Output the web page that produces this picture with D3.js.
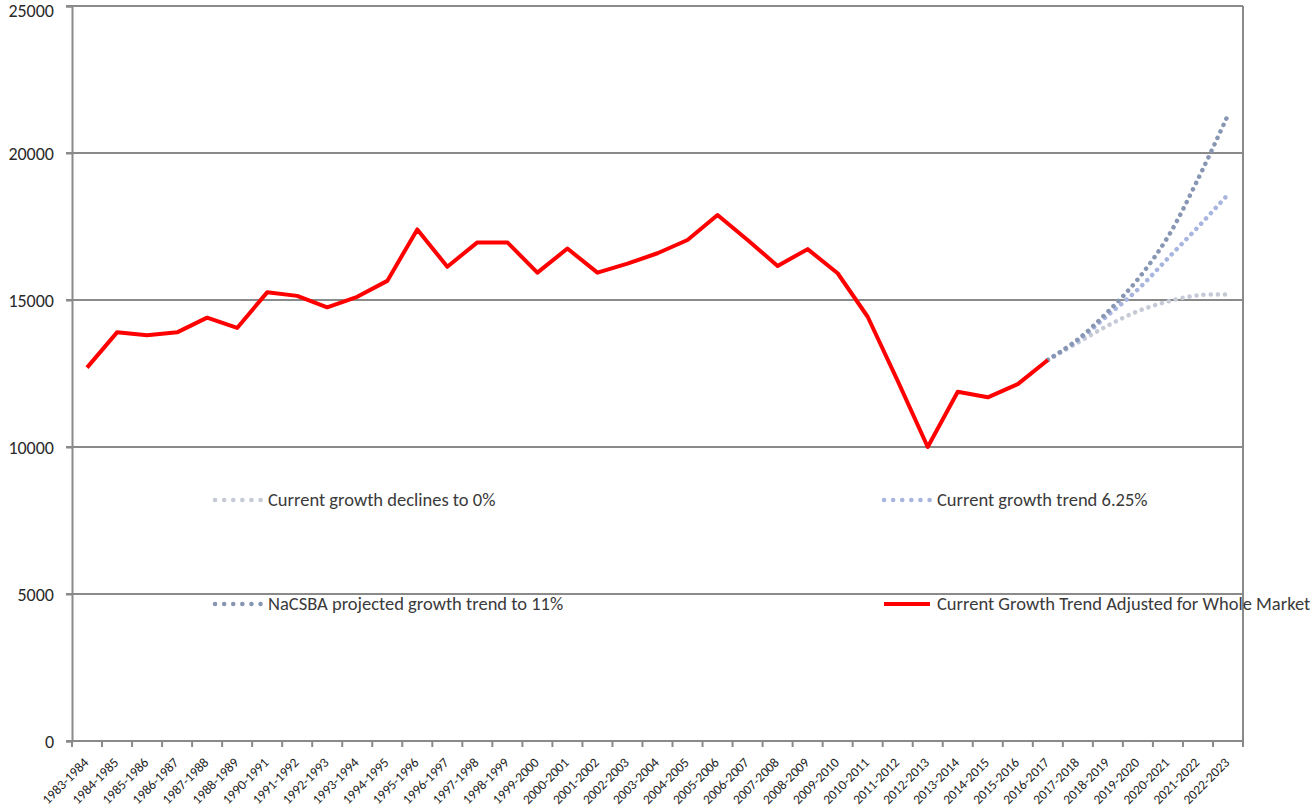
<!DOCTYPE html>
<html>
<head>
<meta charset="utf-8">
<script src="https://cdn.jsdelivr.net/npm/d3@7"></script>
<style>
  body { margin: 0; background: #fff; }
  text { font-family: Carlito, Lato, "Liberation Sans", sans-serif; }
</style>
</head>
<body>
<div id="chart"></div>
<script>
// Categories (note: 1989-1990 is not in the source axis)
const years = [
  "1983-1984","1984-1985","1985-1986","1986-1987","1987-1988","1988-1989",
  "1990-1991","1991-1992","1992-1993","1993-1994","1994-1995","1995-1996",
  "1996-1997","1997-1998","1998-1999","1999-2000","2000-2001","2001-2002",
  "2002-2003","2003-2004","2004-2005","2005-2006","2006-2007","2007-2008",
  "2008-2009","2009-2010","2010-2011","2011-2012","2012-2013","2013-2014",
  "2014-2015","2015-2016","2016-2017","2017-2018","2018-2019","2019-2020",
  "2020-2021","2021-2022","2022-2023"
];

// Current growth trend adjusted for whole market (1983-1984 .. 2016-2017)
const actual = [
  12700, 13900, 13800, 13900, 14400, 14050, 15260, 15140, 14750, 15110,
  15650, 17400, 16130, 16960, 16960, 15930, 16750, 15930, 16240, 16590,
  17040, 17890, 17040, 16160, 16730, 15910, 14430, 12250, 10000, 11880,
  11690, 12140, 12960
];

// Projections (2016-2017 .. 2022-2023)
const projYears = years.slice(32);
const declineTo0 = [12960, 13550, 14130, 14620, 14950, 15160, 15190];
const trend625   = [12960, 13620, 14480, 15360, 16420, 17480, 18590];
const nacsba11   = [12960, 13660, 14600, 15710, 17150, 19110, 21290];

const yTicks = [0, 5000, 10000, 15000, 20000, 25000];

const W = 1312, H = 810;
const m = { left: 72, right: 1243, top: 6, bottom: 741 };

const svg = d3.select("#chart").append("svg")
    .attr("width", W).attr("height", H);

const x = d3.scaleBand().domain(years).range([m.left, m.right]).padding(0);
const cx = d => x(d) + x.bandwidth() / 2;
const y = d3.scaleLinear().domain([0, 25000]).range([m.bottom, m.top]);

const gridCol = "#8a8a8a";

// gridlines
svg.append("g")
    .selectAll("line")
    .data(yTicks.filter(t => t > 0))
    .enter().append("line")
    .attr("x1", m.left - 6).attr("x2", m.right)
    .attr("y1", d => y(d)).attr("y2", d => y(d))
    .attr("stroke", gridCol).attr("stroke-width", 2);

// y axis
const yAxis = svg.append("g")
    .attr("transform", `translate(${m.left},0)`)
    .call(d3.axisLeft(y).tickValues(yTicks).tickSize(6).tickPadding(12).tickFormat(d3.format("d")));
yAxis.select(".domain").attr("stroke", gridCol).attr("stroke-width", 2);
yAxis.selectAll(".tick line").attr("stroke", gridCol).attr("stroke-width", 2);
yAxis.selectAll(".tick text")
    .attr("fill", "#2a2a2a").style("font-size", "18px")
    .style("font-family", "Carlito, Lato, sans-serif")
    .attr("dy", d => d === 25000 ? "0.6em" : "0.34em");

// right border
svg.append("line")
    .attr("x1", m.right).attr("x2", m.right).attr("y1", m.top).attr("y2", m.bottom)
    .attr("stroke", gridCol).attr("stroke-width", 2);

// x axis line + boundary ticks
svg.append("line")
    .attr("x1", m.left - 6).attr("x2", m.right).attr("y1", m.bottom).attr("y2", m.bottom)
    .attr("stroke", gridCol).attr("stroke-width", 2);
const bounds = years.map(d => x(d)).concat([m.right]);
svg.append("g").selectAll("line")
    .data(bounds).enter().append("line")
    .attr("x1", d => d).attr("x2", d => d)
    .attr("y1", m.bottom).attr("y2", m.bottom + 6)
    .attr("stroke", gridCol).attr("stroke-width", 2);

// x labels
svg.append("g").selectAll("text")
    .data(years).enter().append("text")
    .attr("transform", d => `translate(${cx(d) - 1},${m.bottom + 19}) rotate(-45)`)
    .attr("text-anchor", "end")
    .attr("dy", "0.35em")
    .attr("fill", "#1e1e1e")
    .style("font-size", "13.5px")
    .text(d => d);

// projection lines (smoothed, dotted)
const projLine = d3.line()
    .x((d, i) => cx(projYears[i]))
    .y(d => y(d))
    .curve(d3.curveCatmullRom.alpha(0.5));

const series = [
  { name: "Current growth declines to 0%", values: declineTo0, color: "#c6cad6" },
  { name: "Current growth trend 6.25%", values: trend625, color: "#a7b5df" },
  { name: "NaCSBA projected growth trend to 11%", values: nacsba11, color: "#8796b2" }
];

series.forEach(s => {
  svg.append("path")
      .datum(s.values)
      .attr("d", projLine)
      .attr("fill", "none")
      .attr("stroke", s.color)
      .attr("stroke-width", 4.5)
      .attr("stroke-linecap", "round")
      .attr("stroke-dasharray", "0.1 7");
});

// actual line
const actLine = d3.line()
    .x((d, i) => cx(years[i]))
    .y(d => y(d));
svg.append("path")
    .datum(actual)
    .attr("d", actLine)
    .attr("fill", "none")
    .attr("stroke", "#ff0000")
    .attr("stroke-width", 4)
    .attr("stroke-linejoin", "round");

// legend
const legend = [
  { name: series[0].name, color: series[0].color, dotted: true, lx: 213, ly: 500 },
  { name: series[1].name, color: series[1].color, dotted: true, lx: 882, ly: 500 },
  { name: series[2].name, color: series[2].color, dotted: true, lx: 213, ly: 604 },
  { name: "Current Growth Trend Adjusted for Whole Market", color: "#ff0000", dotted: false, lx: 882, ly: 604 }
];

const lg = svg.append("g").selectAll("g")
    .data(legend).enter().append("g")
    .attr("transform", d => `translate(${d.lx},${d.ly})`);

lg.append("line")
    .attr("x1", 2).attr("x2", 48).attr("y1", 0).attr("y2", 0)
    .attr("stroke", d => d.color)
    .attr("stroke-width", d => d.dotted ? 4.5 : 4)
    .attr("stroke-linecap", d => d.dotted ? "round" : "butt")
    .attr("stroke-dasharray", d => d.dotted ? "0.1 9" : null);

lg.append("text")
    .attr("x", 55).attr("y", 0).attr("dy", "0.35em")
    .attr("fill", "#3a3a3a")
    .style("font-size", "18.5px")
    .text(d => d.name);
</script>
</body>
</html>
